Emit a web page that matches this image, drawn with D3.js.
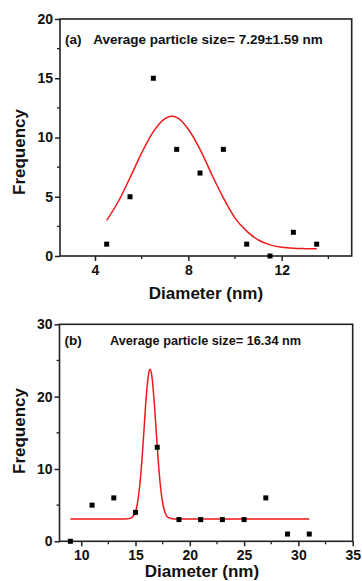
<!DOCTYPE html>
<html>
<head>
<meta charset="utf-8">
<script src="https://cdn.jsdelivr.net/npm/d3@7"></script>
<style>
  body { margin: 0; background: #fff; }
  text { font-family: "Liberation Sans", Arial, sans-serif; font-weight: bold; fill: #111; }
</style>
</head>
<body>
<div id="my_dataviz"></div>
<script>
// panel (a) histogram counts and gaussian fit
var sizeA = [4.5, 5.5, 6.5, 7.5, 8.5, 9.5, 10.5, 11.5, 12.5, 13.5];
var countA = [1, 5, 15, 9, 7, 9, 1, 0, 2, 1];
var fitXA = [4.5, 5, 5.5, 6, 6.5, 7, 7.29, 7.5, 8, 8.5, 9, 9.5, 10, 10.5, 11, 11.5, 12, 12.5, 13, 13.5];
var fitYA = [3.0, 4.6, 6.6, 8.7, 10.5, 11.6, 11.8, 11.7, 10.7, 9.0, 6.9, 4.9, 3.2, 2.1, 1.35, 0.94, 0.74, 0.65, 0.62, 0.61];
var xTicksA = [4, 8, 12];
var yTicksA = [0, 5, 10, 15, 20];

// panel (b)
var sizeB = [9, 11, 13, 15, 17, 19, 21, 23, 25, 27, 29, 31];
var countB = [0, 5, 6, 4, 13, 3, 3, 3, 3, 6, 1, 1];
var fitXB = [9, 12, 14, 14.5, 15, 15.25, 15.5, 15.75, 16, 16.25, 16.34, 16.5, 16.75, 17, 17.25, 17.5, 17.75, 18, 18.5, 20, 25, 31];
var fitYB = [3.1, 3.1, 3.1, 3.17, 4.1, 5.96, 9.47, 14.7, 20.2, 23.5, 23.8, 22.9, 18.7, 13.1, 8.3, 5.3, 3.85, 3.3, 3.1, 3.1, 3.1, 3.1];
var xTicksB = [10, 15, 20, 25, 30, 35];
var yTicksB = [0, 10, 20, 30];

var svg = d3
    .select("#my_dataviz")
    .append("svg")
    .attr("width", 362)
    .attr("height", 581);

svg.append("rect").attr("width", 362).attr("height", 581).attr("fill", "#fff");

function drawPanel(opt) {
    var x = d3.scaleLinear().domain(opt.xDomain).range([opt.left, opt.right]);
    var y = d3.scaleLinear().domain(opt.yDomain).range([opt.bottom, opt.top]);
    var g = svg.append("g");

    // minor ticks
    g.selectAll(".mx")
        .data(opt.xMinor)
        .enter()
        .append("line")
        .attr("x1", function (d) { return x(d); })
        .attr("x2", function (d) { return x(d); })
        .attr("y1", opt.bottom)
        .attr("y2", opt.bottom + 3)
        .attr("stroke", "#222")
        .attr("stroke-width", 1.3);
    g.selectAll(".my")
        .data(opt.yMinor)
        .enter()
        .append("line")
        .attr("y1", function (d) { return y(d); })
        .attr("y2", function (d) { return y(d); })
        .attr("x1", opt.left)
        .attr("x2", opt.left - 3)
        .attr("stroke", "#222")
        .attr("stroke-width", 1.3);

    // axes
    var xAxis = g.append("g")
        .attr("transform", "translate(0," + opt.bottom + ")")
        .call(d3.axisBottom(x).tickValues(opt.xTicks).tickSize(5).tickPadding(4));
    var yAxis = g.append("g")
        .attr("transform", "translate(" + opt.left + ",0)")
        .call(d3.axisLeft(y).tickValues(opt.yTicks).tickSize(5).tickPadding(2));
    [xAxis, yAxis].forEach(function (a) {
        a.select(".domain").remove();
        a.selectAll("line").attr("stroke", "#222").attr("stroke-width", 1.5);
        a.selectAll("text")
            .style("font-size", "14px")
            .style("font-family", "Liberation Sans, Arial, sans-serif")
            .style("font-weight", "bold")
            .attr("fill", "#111");
    });

    // frame
    g.append("rect")
        .attr("x", opt.left)
        .attr("y", opt.top)
        .attr("width", opt.right - opt.left)
        .attr("height", opt.bottom - opt.top)
        .attr("fill", "none")
        .attr("stroke", "#222")
        .attr("stroke-width", 1.6);

    // fit curve
    var fit = opt.fitX.map(function (d, i) { return [d, opt.fitY[i]]; });
    g.append("path")
        .datum(fit)
        .attr("fill", "none")
        .attr("stroke", "#f01818")
        .attr("stroke-width", 1.5)
        .attr("d", d3.line()
            .x(function (d) { return x(d[0]); })
            .y(function (d) { return y(d[1]); })
            .curve(d3.curveMonotoneX));

    // points
    g.selectAll(".pt")
        .data(opt.px)
        .enter()
        .append("rect")
        .attr("x", function (d) { return x(d) - 2.5; })
        .attr("y", function (d, i) { return y(opt.py[i]) - 2.5; })
        .attr("width", 5)
        .attr("height", 5)
        .attr("fill", "#000");

    // labels
    g.append("text")
        .attr("x", opt.left + 5)
        .attr("y", opt.annY)
        .style("font-size", "13.5px")
        .text(opt.tag);
    g.append("text")
        .attr("x", opt.annX)
        .attr("y", opt.annY)
        .style("font-size", opt.annSize)
        .text(opt.ann);
    g.append("text")
        .attr("x", opt.xTitleX)
        .attr("y", opt.xTitleY)
        .attr("text-anchor", "middle")
        .style("font-size", "17px")
        .text("Diameter (nm)");
    g.append("text")
        .attr("transform", "translate(25," + opt.yTitleY + ") rotate(-90)")
        .attr("text-anchor", "middle")
        .style("font-size", "17px")
        .text("Frequency");
}

drawPanel({
    xDomain: [2.5, 15], yDomain: [0, 20],
    left: 60, right: 351.7, top: 19, bottom: 256,
    xTicks: xTicksA, yTicks: yTicksA,
    xMinor: [6, 10, 14], yMinor: [2.5, 7.5, 12.5, 17.5],
    fitX: fitXA, fitY: fitYA, px: sizeA, py: countA,
    tag: "(a)", ann: "Average particle size= 7.29\u00b11.59 nm",
    annX: 93.3, annY: 43.8, annSize: "13.5px",
    xTitleX: 206, xTitleY: 299, yTitleY: 152
});

drawPanel({
    xDomain: [8, 35], yDomain: [0, 30],
    left: 59.5, right: 352.7, top: 324.3, bottom: 541.3,
    xTicks: xTicksB, yTicks: yTicksB,
    xMinor: [12.5, 17.5, 22.5, 27.5, 32.5], yMinor: [5, 15, 25],
    fitX: fitXB, fitY: fitYB, px: sizeB, py: countB,
    tag: "(b)", ann: "Average particle size= 16.34 nm",
    annX: 110, annY: 344.6, annSize: "12.7px",
    xTitleX: 202, xTitleY: 577, yTitleY: 431
});
</script>
</body>
</html>
